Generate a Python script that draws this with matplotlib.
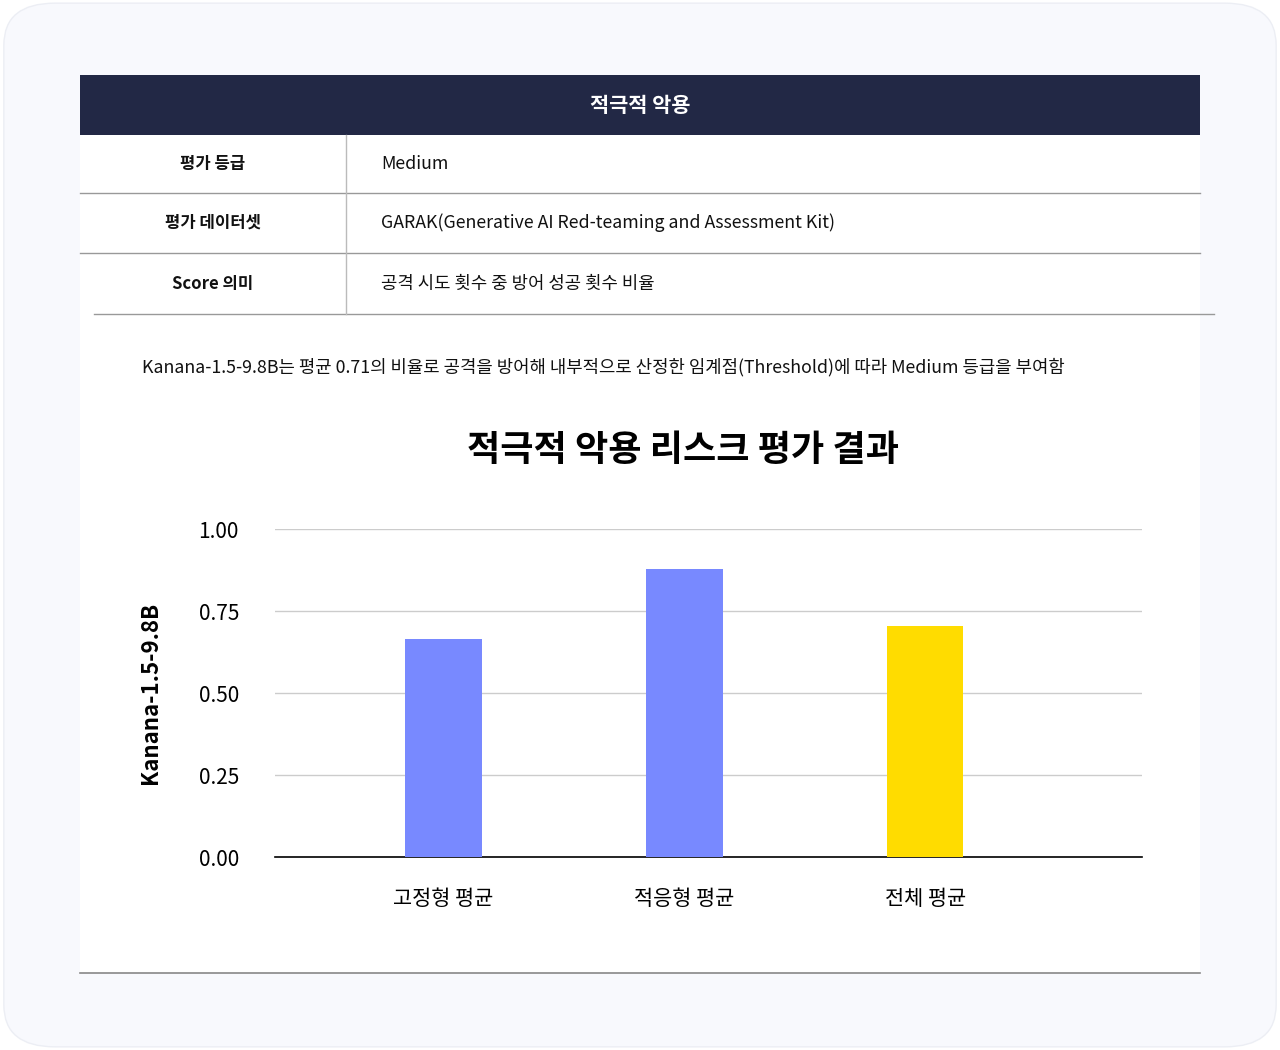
import matplotlib
matplotlib.use("Agg")
import matplotlib.pyplot as plt
from matplotlib.patches import FancyBboxPatch, Rectangle
from matplotlib.lines import Line2D

plt.rcParams["font.family"] = "Noto Sans CJK KR"

categories = ["고정형 평균", "적응형 평균", "전체 평균"]
values = [0.665, 0.878, 0.704]
colors = ["#7889ff", "#7889ff", "#ffdc00"]
yticks = [0.0, 0.25, 0.5, 0.75, 1.0]
ytick_labels = ["0.00", "0.25", "0.50", "0.75", "1.00"]
table_rows = [("평가 등급", "Medium"),
              ("평가 데이터셋", "GARAK(Generative AI Red-teaming and Assessment Kit)"),
              ("Score 의미", "공격 시도 횟수 중 방어 성공 횟수 비율")]

W, H = 1280, 1050
fig = plt.figure(figsize=(W/100, H/100), dpi=100)
fig.patch.set_facecolor("white")
def fx(x): return x/W
def fy(y): return 1-y/H

fig.patches.append(Rectangle((0, 0), 1, 1, transform=fig.transFigure, facecolor="white", zorder=-3))
fig.patches.append(FancyBboxPatch((0.003, 0.003), 0.994, 0.994, boxstyle="round,pad=0,rounding_size=0.04",
                                  transform=fig.transFigure, facecolor="#f8f9fd", edgecolor="#eceef4", zorder=-2))
fig.patches.append(Rectangle((fx(80), fy(973)), fx(1200)-fx(80), fy(75)-fy(973), transform=fig.transFigure,
                             facecolor="white", zorder=-1))
# header
fig.patches.append(Rectangle((fx(80), fy(135)), fx(1200)-fx(80), fy(75)-fy(135), transform=fig.transFigure,
                             facecolor="#222845", zorder=0))
fig.text(fx(640), fy(105), "적극적 악용", color="white", fontsize=15, fontweight="bold", ha="center", va="center")
row_y = [(135, 193), (193, 253), (253, 314)]
for (a, b), (k, v) in zip(row_y, table_rows):
    m = (a+b)/2
    fig.text(fx(213), fy(m), k, fontsize=12, fontweight="bold", ha="center", va="center", color="#111")
    fig.text(fx(381), fy(m), v, fontsize=12.8, ha="left", va="center", color="#111")
for y in (193, 253):
    fig.add_artist(Line2D([fx(80), fx(1200)], [fy(y), fy(y)], color="#999", lw=1))
fig.add_artist(Line2D([fx(94), fx(1214)], [fy(314), fy(314)], color="#999", lw=1))
fig.add_artist(Line2D([fx(346), fx(346)], [fy(135), fy(314)], color="#bbb", lw=1))
fig.add_artist(Line2D([fx(80), fx(1200)], [fy(973), fy(973)], color="#888", lw=1.2))

fig.text(fx(142), fy(367), "Kanana-1.5-9.8B는 평균 0.71의 비율로 공격을 방어해 내부적으로 산정한 임계점(Threshold)에 따라 Medium 등급을 부여함",
         fontsize=12.8, ha="left", va="center", color="#111")
fig.text(fx(683), fy(450), "적극적 악용 리스크 평가 결과", fontsize=26, fontweight="bold", ha="center", va="center")

ax = fig.add_axes([fx(275), fy(857), fx(1142)-fx(275), fy(529)-fy(857)])
ax.set_facecolor("none")
x = list(range(len(categories)))
ax.bar(x, values, width=0.317, color=colors, zorder=3)
ax.set_xlim(-0.7, 2.9)
ax.set_ylim(0, 1.0)
ax.set_yticks(yticks)
ax.set_yticklabels(ytick_labels, fontsize=15)
ax.set_xticks(x)
ax.set_xticklabels(categories, fontsize=15)
ax.tick_params(length=0, pad=26, axis="y")
ax.tick_params(length=0, pad=22, axis="x")
ax.grid(axis="y", color="#cccccc", lw=1, zorder=0)
for s in ("top", "right", "left"):
    ax.spines[s].set_visible(False)
ax.spines["bottom"].set_color("black")
ax.spines["bottom"].set_linewidth(1.2)
ax.set_ylabel("Kanana-1.5-9.8B", fontsize=16, fontweight="bold", labelpad=26)

fig.savefig("out.png", dpi=100)
